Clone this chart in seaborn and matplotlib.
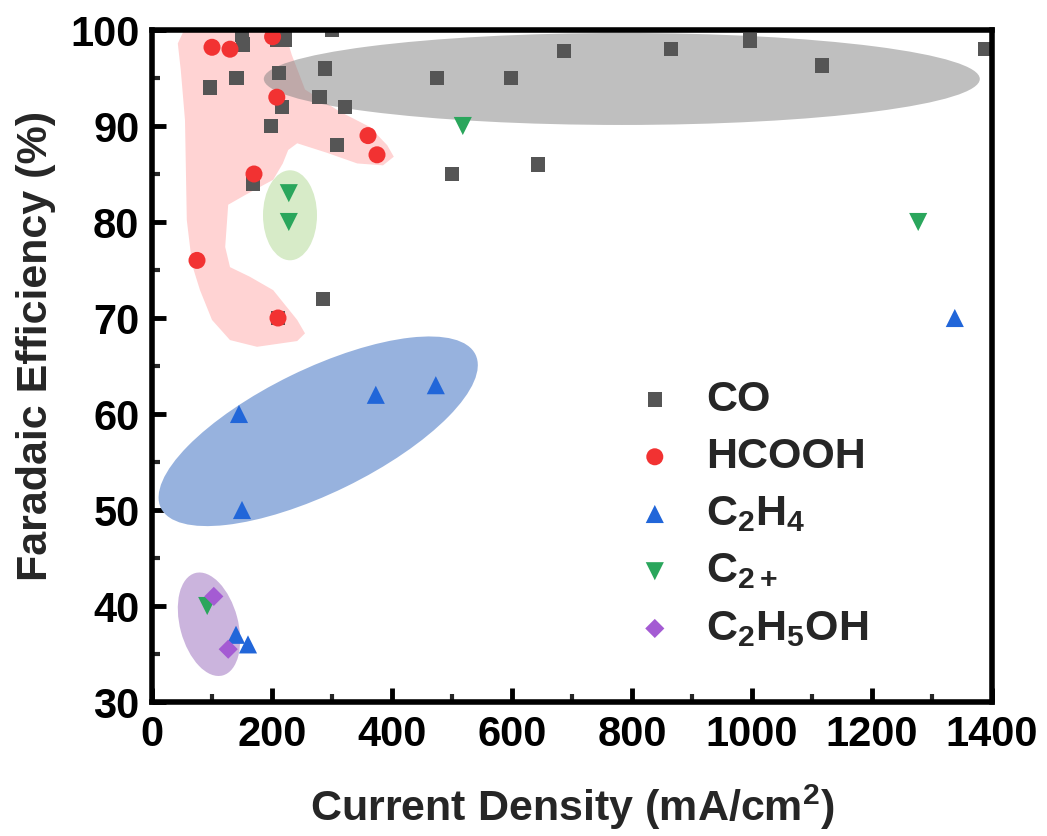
import matplotlib
matplotlib.use("Agg")
import numpy as np
import pandas as pd
import seaborn as sns
import matplotlib.pyplot as plt
from matplotlib.patches import Ellipse, Polygon
from matplotlib.transforms import Affine2D
from matplotlib.ticker import MultipleLocator

# ---------------- data ----------------
co_x = [97, 141, 150, 152, 168, 198, 208, 212, 217, 222, 210, 279, 285, 288, 300, 308, 322,
        475, 500, 598, 643, 687, 865, 997, 1117, 1388]
co_y = [94, 95, 99.5, 98.5, 84, 90, 99, 95.5, 92, 99, 70, 93, 72, 96, 100, 88, 92,
        95, 85, 95, 86, 97.8, 98, 98.9, 96.3, 98]

hcooh_x = [75, 100, 130, 170, 201, 208, 210, 360, 375]
hcooh_y = [76, 98.2, 98, 85, 99.3, 93, 70, 89, 87]

c2h4_x = [145, 150, 373, 473, 1338, 140, 160]
c2h4_y = [60, 50, 62, 63, 70, 37, 36]

c2p_x = [228, 228, 518, 1277, 92]
c2p_y = [83, 80, 90, 80, 40]

etoh_x = [103, 127]
etoh_y = [41, 35.5]

labels = ["CO", "HCOOH", r"C$_2$H$_4$", r"C$_{2+}$", r"C$_2$H$_5$OH"]

x_ticks = [0, 200, 400, 600, 800, 1000, 1200, 1400]
y_ticks = [30, 40, 50, 60, 70, 80, 90, 100]

# HCOOH shaded region outline (data units)
pink_x = [43, 52, 218, 233, 255, 313, 363, 392, 403, 385, 342, 292, 242, 227, 218, 202, 155,
          127, 122, 130, 163, 202, 242, 255, 242, 175, 130, 100, 80, 67, 58, 55, 48]
pink_y = [98.6, 99.8, 100.5, 97.4, 93.8, 91.5, 89.9, 88.0, 86.8, 85.9, 86.1, 87.2, 88.2, 87.5,
          86.1, 84.4, 82.8, 81.8, 77.4, 75.3, 74.3, 72.9, 69.8, 68.4, 67.6, 67.0, 67.7, 69.8,
          72.9, 75.5, 80.2, 90.6, 95.8]

# ---------------- style ----------------
sns.set_theme(style="ticks")
plt.rcParams["font.family"] = ["Liberation Sans", "DejaVu Sans"]
plt.rcParams["font.weight"] = "bold"
plt.rcParams["mathtext.fontset"] = "custom"
plt.rcParams["mathtext.rm"] = "Liberation Sans:bold"
plt.rcParams["mathtext.bf"] = "Liberation Sans:bold"
plt.rcParams["mathtext.it"] = "Liberation Sans:bold"
plt.rcParams["mathtext.sf"] = "Liberation Sans:bold"
plt.rcParams["mathtext.default"] = "regular"

W, H = 1047, 836
fig = plt.figure(figsize=(W / 100, H / 100), dpi=100)
ax = fig.add_axes([152 / W, 1 - 702 / H, 840 / W, 672 / H])
ax.set_xlim(0, 1400)
ax.set_ylim(30, 100)

# pixel-per-unit scale for true-shape ellipses
sx, sy = 840 / 1400, 672 / 70
pix = Affine2D().scale(1 / sx, 1 / sy) + ax.transData


def add_ellipse(cx, cy, w_px, h_px, ang, color, alpha=1.0, z=1):
    e = Ellipse((cx * sx, cy * sy), w_px, h_px, angle=ang, transform=pix,
                facecolor=color, edgecolor="none", alpha=alpha, zorder=z)
    ax.add_patch(e)


ax.add_patch(Polygon(np.column_stack([pink_x, pink_y]), closed=True,
                     facecolor="#ffd3d3", edgecolor="none", zorder=1))
add_ellipse(783, 94.9, 716, 92, 0, "#808080", alpha=0.5, z=1.5)
add_ellipse(230, 80.7, 54, 90, 0, "#d7ebc8", z=1.2)
add_ellipse(277, 58.2, 350, 124, 26, "#97b2de", z=1.2)
add_ellipse(95, 38.1, 58, 106, 15, "#cbb4dd", z=1.2)

kw = dict(ax=ax, edgecolor="none", linewidth=0, zorder=3)
sns.scatterplot(x=co_x, y=co_y, marker="s", s=105, color="#555555", label=labels[0], **kw)
sns.scatterplot(x=hcooh_x, y=hcooh_y, marker="o", s=150, color="#f23232", label=labels[1], **kw)
sns.scatterplot(x=c2h4_x, y=c2h4_y, marker="^", s=170, color="#2166d9", label=labels[2], **kw)
sns.scatterplot(x=c2p_x, y=c2p_y, marker="v", s=170, color="#2aa65c", label=labels[3], **kw)
sns.scatterplot(x=etoh_x, y=etoh_y, marker="D", s=95, color="#a45bd3", label=labels[4], **kw)

ax.xaxis.set_major_locator(MultipleLocator(200))
ax.xaxis.set_minor_locator(MultipleLocator(100))
ax.yaxis.set_major_locator(MultipleLocator(10))
ax.yaxis.set_minor_locator(MultipleLocator(5))
ax.set_xticks(x_ticks)
ax.set_yticks(y_ticks)
ax.tick_params(which="major", direction="in", length=10, width=3.5, labelsize=30, pad=9,
               top=False, right=False, colors="black")
ax.tick_params(which="minor", direction="in", length=6, width=3, top=False, right=False)
for sp in ax.spines.values():
    sp.set_linewidth(4)
    sp.set_color("black")
    sp.set_visible(True)
    sp.set_zorder(5)

ax.set_xlabel("Current Density (mA/cm$^2$)", fontsize=31, fontweight="bold", labelpad=20)
ax.set_ylabel("Faradaic Efficiency (%)", fontsize=31, fontweight="bold", labelpad=10)
ax.yaxis.label.set_y(0.53)

leg = ax.legend(loc="upper left", bbox_to_anchor=(0.555, 0.505), frameon=False, fontsize=31,
                handletextpad=0.75, labelspacing=0.40, borderaxespad=0, handlelength=0.9)

fig.savefig("out.png", dpi=100)
